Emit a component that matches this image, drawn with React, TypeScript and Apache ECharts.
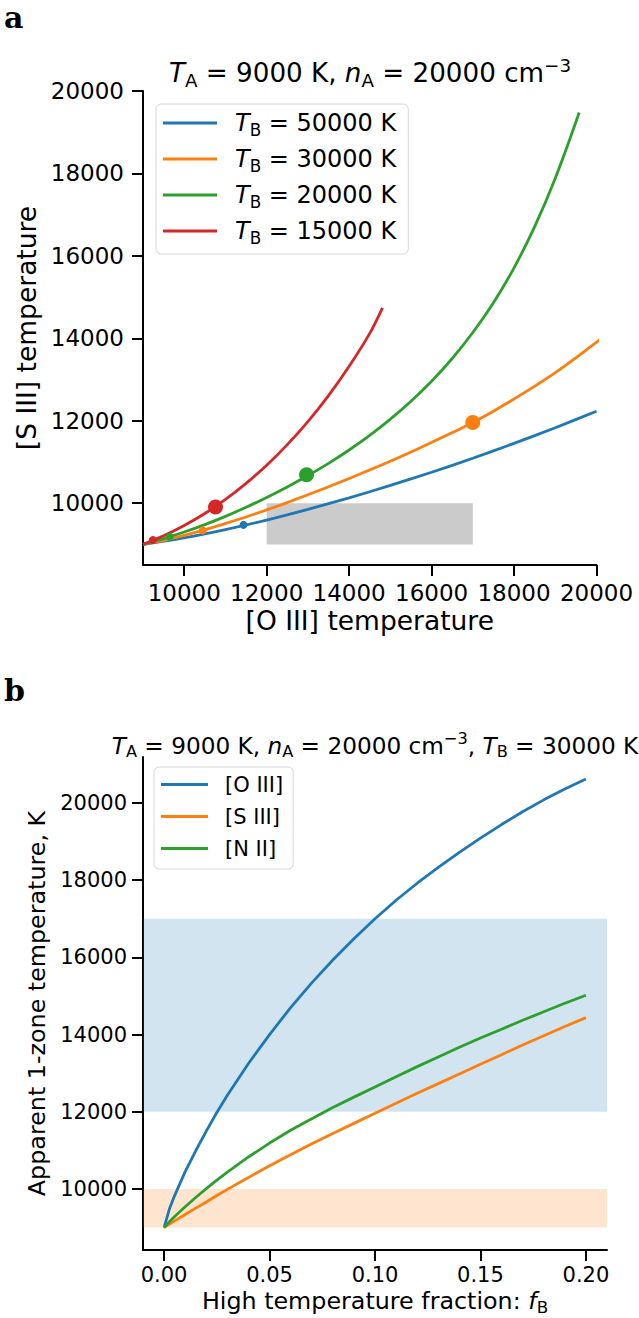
import { useEffect, useRef } from "react";
import * as echarts from "echarts";

const FONT = "DejaVu Sans";

// ---- Panel a: [S III] vs [O III] temperature, cool zone T_A = 9000 K ----
const oiiiTB50 = [9000, 10000, 11000, 12000, 13000, 14000, 15000, 16000, 17000, 18000, 19000, 20000];
const siiiTB50 = [9000, 9160, 9360, 9590, 9850, 10130, 10430, 10750, 11090, 11450, 11830, 12230];
const oiiiTB20 = [9000, 9500, 10000, 10500, 11000, 11500, 12000, 12500, 13000, 13500, 14000, 14500,
  15000, 15500, 16000, 16500, 17000, 17500, 18000, 18500, 19000, 19580];
const siiiTB20 = [9000, 9140, 9300, 9480, 9680, 9900, 10140, 10395, 10670, 10965, 11290, 11645,
  12040, 12475, 12960, 13510, 14140, 14860, 15710, 16710, 17885, 19480];
const oiiiTB15 = [9000, 9500, 10000, 10500, 11000, 11500, 12000, 12500, 13000, 13500, 14000, 14500, 14810];
const siiiTB15 = [9000, 9210, 9460, 9750, 10090, 10480, 10920, 11420, 11980, 12610, 13320, 14120, 14740];

// points at f_B = 0.01 (small) and f_B = 0.1 (large)
const markTB50Small = [11438, 9473];
const markTB20Small = [9646, 9187];
const markTB20Large = [12967, 10687];
const markTB15Small = [9240, 9107];
const markTB15Large = [10759, 9910];

// observed box in panel a
const boxOIII = [12000, 17000];
const boxSIII = [9000, 10000];

// ---- Panel b: apparent temperatures vs hot fraction, T_B = 30000 K ----
const fracB = [0, 0.0025, 0.005, 0.01, 0.015, 0.02, 0.025, 0.03, 0.04, 0.05, 0.06, 0.07, 0.08,
  0.09, 0.1, 0.11, 0.12, 0.13, 0.14, 0.15, 0.16, 0.17, 0.18, 0.19, 0.2];
const tOIII = [9000, 9480, 9830, 10450, 10990, 11500, 11980, 12430, 13250, 14000, 14700, 15340, 15930,
  16480, 17000, 17480, 17920, 18330, 18720, 19090, 19440, 19770, 20080, 20360, 20620];
const tSIII = [9000, 9090, 9175, 9340, 9505, 9665, 9830, 9990, 10300, 10600, 10890, 11170, 11440,
  11700, 11960, 12220, 12480, 12730, 12980, 13230, 13480, 13730, 13970, 14210, 14440];
const tNII = [9000, 9150, 9290, 9540, 9780, 10010, 10230, 10440, 10830, 11190, 11520, 11820, 12110,
  12380, 12640, 12910, 13170, 13420, 13670, 13910, 14140, 14370, 14590, 14810, 15020];

const bandOIII = [12000, 17000];
const bandSIII = [9000, 10000];

const ticksTopX = [10000, 12000, 14000, 16000, 18000, 20000];
const ticksTopY = [10000, 12000, 14000, 16000, 18000, 20000];
const ticksBotX = [0, 0.05, 0.1, 0.15, 0.2];
const ticksBotY = [10000, 12000, 14000, 16000, 18000, 20000];

const C_BLUE = "#1f77b4";
const C_ORANGE = "#ff7f0e";
const C_GREEN = "#2ca02c";
const C_RED = "#d62728";

const zip = (xs: number[], ys: number[]) => xs.map((x, i) => [x, ys[i]]);

// rich-text styles emulating math subscripts and superscripts
function mathRich(size: number, lh: number, padLeft = 0) {
  const base = { fontFamily: FONT, color: "#000", lineHeight: lh };
  const small = Math.round(size * 0.7 * 10) / 10;
  return {
    i: { ...base, fontSize: size, fontStyle: "italic", padding: [0, 0, 0, padLeft] },
    r: { ...base, fontSize: size },
    s: { ...base, fontSize: small, padding: [Math.round(size * 0.56), 0, 0, 0] },
    p: { ...base, fontSize: small, padding: [0, 0, Math.round(size * 0.62), 0] },
    g: { ...base, fontSize: size, padding: [0, 0, 0, padLeft] },
  };
}

function axisCommon(ticks: number[], fontSize: number, margin: number, fmt?: (v: number) => string) {
  return {
    type: "value" as const,
    splitLine: { show: false },
    axisLine: { show: true, onZero: false, lineStyle: { color: "#000", width: 2 } },
    axisTick: { show: true, length: 11, lineStyle: { color: "#000", width: 2 }, customValues: ticks },
    axisLabel: {
      customValues: ticks,
      fontSize,
      fontFamily: FONT,
      color: "#000",
      margin,
      formatter: fmt ?? ((v: number) => String(v)),
    },
  };
}

export default function App() {
  const ref = useRef<HTMLDivElement>(null);

  useEffect(() => {
    if (!ref.current) return;
    const chart = echarts.init(ref.current, undefined, { renderer: "svg" });

    const topGrid = { left: 143, top: 91, width: 453.5, height: 474 };
    const botGrid = { left: 143, top: 757, width: 464, height: 493 };

    const lineTop = {
      type: "line" as const,
      showSymbol: false,
      symbol: "none",
      smooth: 0.3,
      clip: true,
      z: 3,
      xAxisIndex: 0,
      yAxisIndex: 0,
    };
    const lineBot = {
      type: "line" as const,
      showSymbol: false,
      symbol: "none",
      smooth: false,
      clip: true,
      z: 3,
      xAxisIndex: 1,
      yAxisIndex: 1,
    };

    const topLegendText: Record<string, string> = {
      tb50: "{i|T}{s|B}{r| = 50000 K}",
      tb30: "{i|T}{s|B}{r| = 30000 K}",
      tb20: "{i|T}{s|B}{r| = 20000 K}",
      tb15: "{i|T}{s|B}{r| = 15000 K}",
    };

    const i01 = fracB.indexOf(0.01);
    const i10 = fracB.indexOf(0.1);

    const dot = { opacity: 1 };

    const option: any = {
      animation: false,
      backgroundColor: "#fff",
      grid: [topGrid, botGrid],
      xAxis: [
        {
          ...axisCommon(ticksTopX, 23, 16),
          gridIndex: 0,
          min: 9000,
          max: 20000,
          name: "[O III] temperature",
          nameLocation: "middle",
          nameGap: 42,
          nameTextStyle: { fontSize: 26.5, fontFamily: FONT, color: "#000" },
        },
        {
          ...axisCommon(ticksBotX, 21, 14, (v: number) => v.toFixed(2)),
          gridIndex: 1,
          min: -0.01,
          max: 0.21,
          name: "High temperature fraction: {i|f}{s|B}",
          nameLocation: "middle",
          nameGap: 32,
          nameTextStyle: { fontSize: 23.8, fontFamily: FONT, color: "#000", rich: mathRich(23.8, 30) },
        },
      ],
      yAxis: [
        {
          ...axisCommon(ticksTopY, 23, 19),
          gridIndex: 0,
          min: 8500,
          max: 20000,
          name: "[S III] temperature",
          nameLocation: "middle",
          nameGap: 100,
          nameTextStyle: { fontSize: 26.5, fontFamily: FONT, color: "#000" },
        },
        {
          ...axisCommon(ticksBotY, 21, 16),
          gridIndex: 1,
          min: 8420,
          max: 21190,
          name: "Apparent 1-zone temperature, K",
          nameLocation: "middle",
          nameGap: 79,
          nameTextStyle: { fontSize: 23.8, fontFamily: FONT, color: "#000" },
        },
      ],
      legend: [
        {
          data: ["tb50", "tb30", "tb20", "tb15"],
          orient: "vertical",
          left: 156,
          top: 104,
          icon: "rect",
          itemWidth: 54,
          itemHeight: 3,
          itemGap: 6,
          padding: [4, 12, 8, 7],
          borderColor: "#d6d6d6",
          borderWidth: 1,
          borderRadius: 5,
          backgroundColor: "rgba(255,255,255,0.8)",
          formatter: (name: string) => topLegendText[name],
          textStyle: { rich: mathRich(24, 36, 13) },
        },
        {
          data: ["[O III]", "[S III]", "[N II]"],
          orient: "vertical",
          left: 154,
          top: 767,
          icon: "rect",
          itemWidth: 47,
          itemHeight: 3,
          itemGap: 11,
          padding: [7, 10, 10, 7],
          borderColor: "#d6d6d6",
          borderWidth: 1,
          borderRadius: 5,
          backgroundColor: "rgba(255,255,255,0.8)",
          formatter: (name: string) => "{g|" + name + "}",
          textStyle: { rich: mathRich(21, 32, 12) },
        },
      ],
      series: [
        // observed region in panel a
        {
          type: "line",
          xAxisIndex: 0,
          yAxisIndex: 0,
          data: [],
          z: 1,
          silent: true,
          markArea: {
            silent: true,
            itemStyle: { color: "#cbcbcb" },
            data: [[{ coord: [boxOIII[0], boxSIII[0]] }, { coord: [boxOIII[1], boxSIII[1]] }]],
          },
        },
        { ...lineTop, name: "tb50", color: C_BLUE, lineStyle: { width: 2.8 }, data: zip(oiiiTB50, siiiTB50) },
        { ...lineTop, name: "tb30", color: C_ORANGE, lineStyle: { width: 2.8 }, data: zip(tOIII, tSIII) },
        { ...lineTop, name: "tb20", color: C_GREEN, lineStyle: { width: 2.8 }, data: zip(oiiiTB20, siiiTB20) },
        { ...lineTop, name: "tb15", color: C_RED, lineStyle: { width: 2.8 }, data: zip(oiiiTB15, siiiTB15) },
        {
          type: "scatter", xAxisIndex: 0, yAxisIndex: 0, z: 4, color: C_BLUE, symbol: "circle", itemStyle: dot,
          data: [{ value: markTB50Small, symbolSize: 8 }],
        },
        {
          type: "scatter", xAxisIndex: 0, yAxisIndex: 0, z: 4, color: C_ORANGE, symbol: "circle", itemStyle: dot,
          data: [
            { value: [tOIII[i01], tSIII[i01]], symbolSize: 8 },
            { value: [tOIII[i10], tSIII[i10]], symbolSize: 15 },
          ],
        },
        {
          type: "scatter", xAxisIndex: 0, yAxisIndex: 0, z: 4, color: C_GREEN, symbol: "circle", itemStyle: dot,
          data: [
            { value: markTB20Small, symbolSize: 8 },
            { value: markTB20Large, symbolSize: 15 },
          ],
        },
        {
          type: "scatter", xAxisIndex: 0, yAxisIndex: 0, z: 4, color: C_RED, symbol: "circle", itemStyle: dot,
          data: [
            { value: markTB15Small, symbolSize: 8 },
            { value: markTB15Large, symbolSize: 15 },
          ],
        },
        // shaded observed ranges in panel b
        {
          type: "line",
          xAxisIndex: 1,
          yAxisIndex: 1,
          data: [],
          z: 1,
          silent: true,
          markArea: {
            silent: true,
            data: [
              [{ yAxis: bandOIII[0], itemStyle: { color: "rgba(31,119,180,0.2)" } }, { yAxis: bandOIII[1] }],
              [{ yAxis: bandSIII[0], itemStyle: { color: "rgba(255,127,14,0.2)" } }, { yAxis: bandSIII[1] }],
            ],
          },
        },
        { ...lineBot, name: "[O III]", color: C_BLUE, lineStyle: { width: 2.8 }, data: zip(fracB, tOIII) },
        { ...lineBot, name: "[S III]", color: C_ORANGE, lineStyle: { width: 2.8 }, data: zip(fracB, tSIII) },
        { ...lineBot, name: "[N II]", color: C_GREEN, lineStyle: { width: 2.8 }, data: zip(fracB, tNII) },
      ],
      graphic: [
        {
          type: "text",
          x: 4,
          y: 17,
          style: { text: "a", fontFamily: "DejaVu Serif", fontWeight: "bold", fontSize: 30, fill: "#000", verticalAlign: "middle" },
        },
        {
          type: "text",
          x: 4,
          y: 690,
          style: { text: "b", fontFamily: "DejaVu Serif", fontWeight: "bold", fontSize: 30, fill: "#000", verticalAlign: "middle" },
        },
        {
          type: "text",
          x: 370,
          y: 73,
          style: {
            text: "{i|T}{s|A}{r| = 9000 K, }{i|n}{s|A}{r| = 20000 cm}{p|\u22123}",
            align: "center",
            verticalAlign: "middle",
            rich: mathRich(26.2, 36),
          },
        },
        {
          type: "text",
          x: 375,
          y: 745,
          style: {
            text: "{i|T}{s|A}{r| = 9000 K, }{i|n}{s|A}{r| = 20000 cm}{p|\u22123}{r|, }{i|T}{s|B}{r| = 30000 K}",
            align: "center",
            verticalAlign: "middle",
            rich: mathRich(23.2, 32),
          },
        },
      ],
    };

    chart.setOption(option);
    return () => chart.dispose();
  }, []);

  return <div ref={ref} style={{ position: "absolute", left: 0, top: 0, width: 639, height: 1318 }} />;
}
